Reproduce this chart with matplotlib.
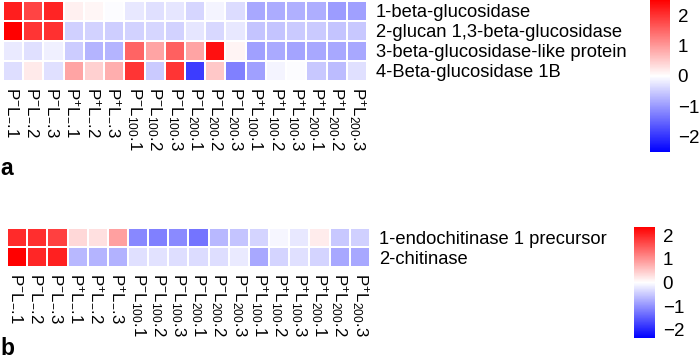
import matplotlib
matplotlib.use("Agg")
import matplotlib.pyplot as plt
import numpy as np
from matplotlib.colors import LinearSegmentedColormap

plt.rcParams['font.family'] = ['Liberation Sans', 'DejaVu Sans']
plt.rcParams['mathtext.fontset'] = 'custom'
plt.rcParams['mathtext.rm'] = 'Liberation Sans'
plt.rcParams['mathtext.it'] = 'Liberation Sans'
plt.rcParams['mathtext.default'] = 'regular'

# ---- data ----
col_labels = [
    r"P$^{-}$L$_{-}$.1", r"P$^{-}$L$_{-}$.2", r"P$^{-}$L$_{-}$.3",
    r"P$^{+}$L$_{-}$.1", r"P$^{+}$L$_{-}$.2", r"P$^{+}$L$_{-}$.3",
    r"P$^{-}$L$_{100}$.1", r"P$^{-}$L$_{100}$.2", r"P$^{-}$L$_{100}$.3",
    r"P$^{-}$L$_{200}$.1", r"P$^{-}$L$_{200}$.2", r"P$^{-}$L$_{200}$.3",
    r"P$^{+}$L$_{100}$.1", r"P$^{+}$L$_{100}$.2", r"P$^{+}$L$_{100}$.3",
    r"P$^{+}$L$_{200}$.1", r"P$^{+}$L$_{200}$.2", r"P$^{+}$L$_{200}$.3",
]

rows_a = ["1-beta-glucosidase", "2-glucan 1,3-beta-glucosidase",
          "3-beta-glucosidase-like protein", "4-Beta-glucosidase 1B"]
beta_glucosidase = [2.19, 1.82, 2.14, 0.14, 0.09, -0.02, -0.23, -0.30, -0.25,
                    -0.41, -0.10, -0.34, -0.85, -0.81, -0.77, -0.80, -0.97, -0.93]
glucan_13 = [2.50, 1.98, 2.03, -0.46, -0.44, -0.47, -0.44, -0.41, -0.44,
             -0.25, -0.38, -0.23, -0.57, -0.57, -0.52, -0.52, -0.57, -0.54]
glucosidase_like = [-0.20, -0.31, -0.15, -0.49, -0.73, -0.73, 1.51, 0.88, 1.56,
                    0.88, 2.34, 0.10, -0.93, -0.83, -0.88, -0.85, -0.85, -0.85]
glucosidase_1b = [-0.33, 0.20, -0.31, 0.88, 0.46, 0.80, 1.98, -0.52, 1.98,
                  -1.91, 0.54, -1.25, -0.93, -0.10, -0.02, -0.54, -0.66, -0.30]

rows_b = ["1-endochitinase 1 precursor", "2-chitinase"]
endochitinase = [1.96, 1.91, 1.76, 0.36, 0.29, 0.88, -1.10, -1.17, -1.08,
                 -1.27, -0.65, -0.54, -0.39, -0.09, -0.21, 0.18, -0.50, -0.44]
chitinase = [2.35, 2.00, 2.05, -0.65, -0.68, -0.70, -0.28, -0.26, -0.30,
             -0.32, -0.30, -0.20, -0.80, -0.39, -0.28, -0.39, -0.80, -0.80]

cbar_ticks = [-2, -1, 0, 1, 2]
lim_a = 2.5
lim_b = 2.35

cmap = LinearSegmentedColormap.from_list("bwr2", ["#0000FF", "#FFFFFF", "#FF0000"])

W, H = 700, 360
fig = plt.figure(figsize=(W / 100, H / 100), dpi=100)


def px_axes(x0, y0, x1, y1):
    return fig.add_axes([x0 / W, 1 - y1 / H, (x1 - x0) / W, (y1 - y0) / H])


def heat(ax, data, rows, lim, lab_pad, row_pad):
    data = np.array(data)
    m = ax.pcolormesh(data, cmap=cmap, vmin=-lim, vmax=lim,
                      edgecolors='white', linewidth=1.2)
    ax.set_xlim(0, data.shape[1])
    ax.set_ylim(data.shape[0], 0)
    for s in ax.spines.values():
        s.set_visible(False)
    ax.set_xticks(np.arange(data.shape[1]) + 0.5)
    ax.set_xticklabels(col_labels, rotation=270, ha='center', va='top',
                       fontsize=12.2)
    ax.set_yticks(np.arange(data.shape[0]) + 0.5)
    ax.set_yticklabels(rows, fontsize=13.2)
    ax.yaxis.tick_right()
    ax.tick_params(axis='x', length=0, pad=lab_pad)
    ax.tick_params(axis='y', length=0, pad=row_pad)
    return m


def cbar(cax, m):
    cb = fig.colorbar(m, cax=cax, ticks=cbar_ticks)
    cb.outline.set_visible(False)
    cb.ax.tick_params(length=0, labelsize=13.5, pad=5.5)
    return cb


ax_a = px_axes(3, 0.5, 367, 81)
m_a = heat(ax_a, [beta_glucosidase, glucan_13, glucosidase_like, glucosidase_1b],
           rows_a, lim_a, 4.5, 6.5)
cax_a = px_axes(650, 0, 670, 152)
cbar(cax_a, m_a)

ax_b = px_axes(7, 227.5, 370, 267)
m_b = heat(ax_b, [endochitinase, chitinase], rows_b, lim_b, 4, 6.5)
cax_b = px_axes(634, 227, 655, 338)
cbar(cax_b, m_b)

fig.text(0 / W, 1 - 175 / H, "a", fontsize=16.5, fontweight='bold',
         ha='left', va='baseline')
fig.text(0 / W, 1 - 355 / H, "b", fontsize=16.5, fontweight='bold',
         ha='left', va='baseline')

fig.savefig("out.png", dpi=100)
